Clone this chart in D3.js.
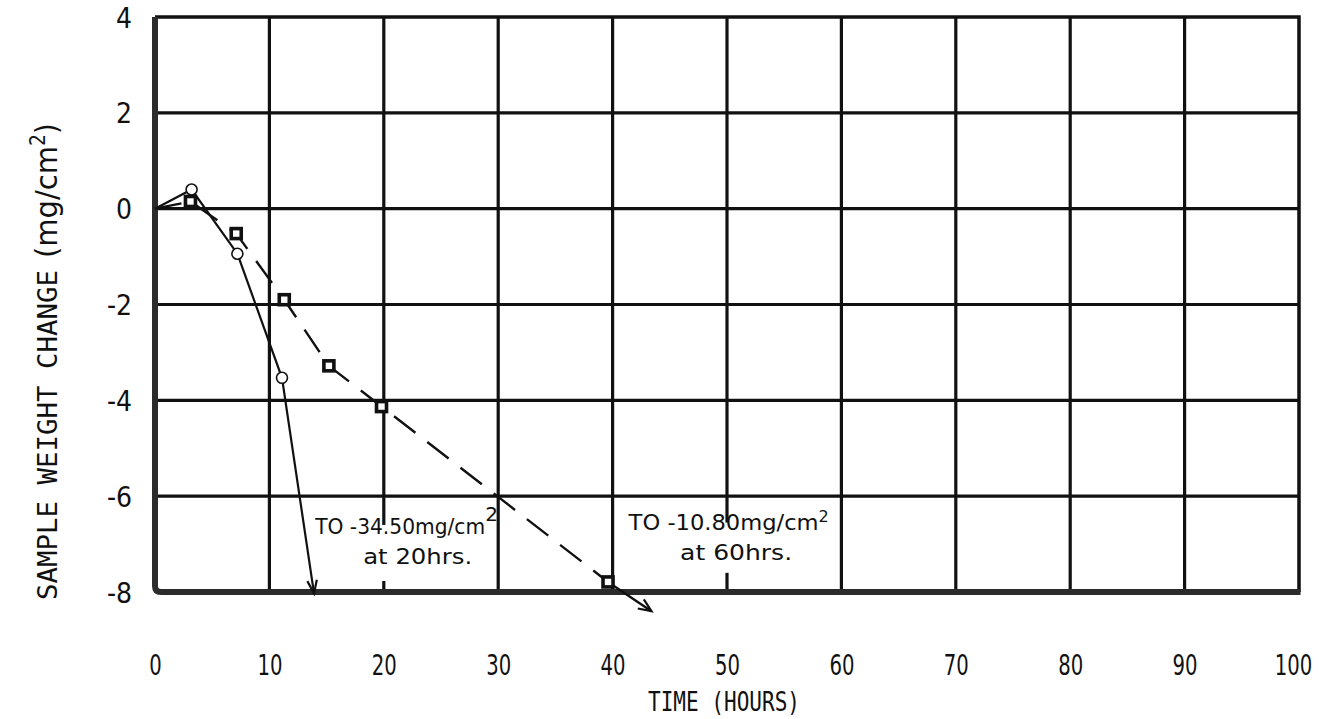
<!DOCTYPE html>
<html>
<head>
<meta charset="utf-8">
<script src="https://cdn.jsdelivr.net/npm/d3@7"></script>
<style>
  html, body { margin: 0; padding: 0; background: #fff; }
  svg { display: block; }
</style>
</head>
<body>
<svg id="chart" width="1319" height="719"></svg>
<script>
// Axis ticks
const xTicks = [0, 10, 20, 30, 40, 50, 60, 70, 80, 90, 100];
const yTicks = [4, 2, 0, -2, -4, -6, -8];

// Series 1 (open circles, solid line)
const circleHours  = [0, 3.2, 7.2, 11.1];
const circleChange = [0, 0.40, -0.94, -3.53];
// continuation arrow: off-scale, toward -34.50 mg/cm2 at 20 hrs
const circleArrowHours  = 13.9;
const circleArrowChange = -8.03;

// Series 2 (squares, dashed line)
const squareHours  = [0, 3.1, 7.1, 11.3, 15.2, 19.8, 39.6];
const squareChange = [0, 0.15, -0.52, -1.90, -3.28, -4.13, -7.79];
// continuation arrow: off-scale, toward -10.80 mg/cm2 at 60 hrs
const squareArrowHours  = 43.4;
const squareArrowChange = -8.4;

const note1 = ["TO -34.50mg/cm", "2", "at 20hrs."];
const note2 = ["TO -10.80mg/cm", "2", "at 60hrs."];

const svg = d3.select("#chart");
const x = d3.scaleLinear().domain([0, 100]).range([155, 1299]);
const y = d3.scaleLinear().domain([-8, 4]).range([592, 17]);

const tickFont = "'DejaVu Sans Condensed', 'DejaVu Sans', sans-serif";
const monoFont = "'DejaVu Sans Mono', 'Liberation Mono', monospace";
const noteFont = "'DejaVu Sans', 'Noto Sans', sans-serif";

// grid
const grid = svg.append("g").attr("stroke", "#111").attr("stroke-width", 3.2);
grid.selectAll("line.v").data(xTicks.slice(1, -1)).join("line")
  .attr("class", "v")
  .attr("x1", d => x(d)).attr("x2", d => x(d))
  .attr("y1", y(4)).attr("y2", y(-8));
grid.selectAll("line.h").data(yTicks.slice(1, -1)).join("line")
  .attr("class", "h")
  .attr("x1", x(0)).attr("x2", x(100))
  .attr("y1", d => y(d)).attr("y2", d => y(d));

// frame: thin top and right, heavy left and bottom with rounded corner
svg.append("path")
  .attr("d", `M${x(0)},${y(4)} H${x(100)} V${y(-8)}`)
  .attr("fill", "none").attr("stroke", "#111").attr("stroke-width", 3.5);
svg.append("path")
  .attr("d", `M${x(0)},${y(4)} V${y(-8) - 6} Q${x(0)},${y(-8)} ${x(0) + 6},${y(-8)} H${x(100) + 1.5}`)
  .attr("fill", "none").attr("stroke", "#2b2b2b").attr("stroke-width", 6);

// annotation boxes (white patches over the grid)
function noteBox(x0, y0, x1, y1) {
  svg.append("rect")
    .attr("x", x(x0)).attr("y", y(y0))
    .attr("width", x(x1) - x(x0)).attr("height", y(y1) - y(y0))
    .attr("fill", "#fff");
}
noteBox(14.0, -6.6, 29.2, -7.77);
noteBox(41.2, -6.55, 59.0, -7.6);

function drawNote(t, xs, yBase, sup, supSize, x2, yBase2, w1, w2) {
  const t1 = svg.append("text")
    .attr("x", x(xs)).attr("y", y(yBase))
    .attr("font-family", noteFont).attr("font-size", 21)
    .attr("fill", "#111");
  t1.append("tspan").text(t[0])
    .attr("textLength", w1).attr("lengthAdjust", "spacingAndGlyphs");
  t1.append("tspan").text(t[1])
    .attr("dy", -sup).attr("font-size", supSize);
  svg.append("text")
    .attr("x", x(x2)).attr("y", y(yBase2))
    .attr("font-family", noteFont).attr("font-size", 21)
    .attr("fill", "#111")
    .attr("textLength", w2).attr("lengthAdjust", "spacingAndGlyphs")
    .text(t[2]);
}
drawNote(note1, 14.0, -6.79, 13, 20, 18.2, -7.42, 170, 109);
drawNote(note2, 41.4, -6.70, 8, 16, 45.9, -7.33, 190, 112);

// series lines
const line = d3.line().x(d => x(d[0])).y(d => y(d[1]));
const circlePts = circleHours.map((h, i) => [h, circleChange[i]]);
const squarePts = squareHours.map((h, i) => [h, squareChange[i]]);

svg.append("path")
  .datum(circlePts.concat([[circleArrowHours, circleArrowChange]]))
  .attr("d", line)
  .attr("fill", "none").attr("stroke", "#111").attr("stroke-width", 2.2);

svg.append("path")
  .datum(squarePts)
  .attr("d", line)
  .attr("fill", "none").attr("stroke", "#111").attr("stroke-width", 2.4)
  .attr("stroke-dasharray", "27,15");
svg.append("path")
  .datum([squarePts[squarePts.length - 1], [squareArrowHours, squareArrowChange]])
  .attr("d", line)
  .attr("fill", "none").attr("stroke", "#111").attr("stroke-width", 2.4);

// open arrowheads at the ends of the continuation segments
function arrowHead(from, to, len, spread) {
  const x0 = x(from[0]), y0 = y(from[1]), x1 = x(to[0]), y1 = y(to[1]);
  const a = Math.atan2(y1 - y0, x1 - x0);
  const p1 = [x1 - len * Math.cos(a - spread), y1 - len * Math.sin(a - spread)];
  const p2 = [x1 - len * Math.cos(a + spread), y1 - len * Math.sin(a + spread)];
  svg.append("path")
    .attr("d", `M${p1[0]},${p1[1]} L${x1},${y1} L${p2[0]},${p2[1]}`)
    .attr("fill", "none").attr("stroke", "#111").attr("stroke-width", 2.2);
}
arrowHead(circlePts[circlePts.length - 1], [circleArrowHours, circleArrowChange], 14, 0.35);
arrowHead(squarePts[squarePts.length - 1], [squareArrowHours, squareArrowChange], 14, 0.4);

// markers
svg.selectAll("circle.pt").data(circlePts.slice(1)).join("circle")
  .attr("class", "pt")
  .attr("cx", d => x(d[0])).attr("cy", d => y(d[1])).attr("r", 5.5)
  .attr("fill", "#fff").attr("stroke", "#111").attr("stroke-width", 1.6);
svg.selectAll("rect.pt").data(squarePts.slice(1)).join("rect")
  .attr("class", "pt")
  .attr("x", d => x(d[0]) - 5).attr("y", d => y(d[1]) - 5)
  .attr("width", 10).attr("height", 10)
  .attr("fill", "#fff").attr("stroke", "#111").attr("stroke-width", 3.6);

// tick labels in narrow lettering; the last one is pulled in from the page edge
svg.append("g")
  .attr("transform", `translate(0,${y(-8)})`)
  .call(d3.axisBottom(x).tickValues(xTicks).tickSize(0).tickPadding(63).tickFormat(d3.format("d")))
  .call(g => g.select(".domain").remove())
  .call(g => g.selectAll("text")
    .attr("font-family", tickFont).attr("font-size", 28).attr("fill", "#111")
    .attr("transform", d => `translate(${d === 100 ? -6 : 0},0) scale(0.78,1)`));

svg.append("g")
  .attr("transform", `translate(${x(0)},0)`)
  .call(d3.axisLeft(y).tickValues(yTicks).tickSize(0).tickPadding(23)
    .tickFormat(d => d < 0 ? "-" + Math.abs(d) : String(d)))
  .call(g => g.select(".domain").remove())
  .call(g => g.selectAll("text").attr("font-family", tickFont).attr("font-size", 28)
    .attr("fill", "#111").attr("dy", "0.36em"));

// axis titles
svg.append("text")
  .attr("x", 724).attr("y", 711)
  .attr("text-anchor", "middle")
  .attr("font-family", monoFont).attr("font-size", 27).attr("fill", "#111")
  .attr("textLength", 152).attr("lengthAdjust", "spacingAndGlyphs")
  .text("TIME (HOURS)");

const yTitle = svg.append("text")
  .attr("transform", "translate(57,600) rotate(-90)")
  .attr("font-family", monoFont).attr("font-size", 27).attr("fill", "#111");
yTitle.append("tspan").text("SAMPLE WEIGHT CHANGE")
  .attr("textLength", 330).attr("lengthAdjust", "spacingAndGlyphs");
yTitle.append("tspan").attr("dx", 12).attr("font-family", tickFont).attr("font-size", 30)
  .attr("textLength", 112).attr("lengthAdjust", "spacingAndGlyphs").text("(mg/cm");
yTitle.append("tspan").attr("font-family", tickFont).attr("font-size", 21).attr("dy", -12).text("2");
yTitle.append("tspan").attr("font-family", tickFont).attr("font-size", 30).attr("dy", 12).text(")");
</script>
</body>
</html>
